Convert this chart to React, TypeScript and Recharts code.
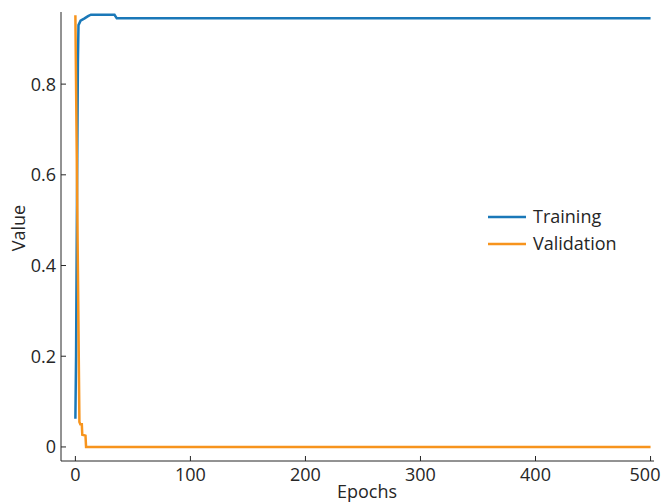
import { LineChart, Line, XAxis, YAxis } from 'recharts'

// epochs / values (change points only, lines are straight between them)
const trainingEpochs = [0, 0.6, 1.4, 2.2, 2.7, 4.5, 8, 11, 13.5, 34, 36, 500]
const trainingValues = [0.062, 0.2, 0.55, 0.85, 0.93, 0.94, 0.945, 0.95, 0.953, 0.953, 0.945, 0.945]

const validationEpochs = [0, 3.5, 4.3, 5.6, 6, 8.8, 9.3, 500]
const validationValues = [0.952, 0.055, 0.05, 0.05, 0.027, 0.025, 0, 0]

const xTicks = [0, 100, 200, 300, 400, 500]
const yTicks = [0, 0.2, 0.4, 0.6, 0.8]

const training = trainingEpochs.map((e, i) => ({ epoch: e, value: trainingValues[i] }))
const validation = validationEpochs.map((e, i) => ({ epoch: e, value: validationValues[i] }))

const BLUE = '#1a78b8'
const ORANGE = '#f7941d'
const INK = '#262626'
const FONT = '"Open Sans", sans-serif'

function LegendBox() {
  const rows = [
    { name: 'Training', color: BLUE },
    { name: 'Validation', color: ORANGE },
  ]
  return (
    <svg width={160} height={60} style={{ position: 'absolute', left: 486, top: 205 }}>
      {rows.map((r, i) => (
        <g key={r.name}>
          <line x1={2} x2={40} y1={12 + i * 27} y2={12 + i * 27} stroke={r.color} strokeWidth={2.5} />
          <text x={47} y={12 + i * 27} dy="0.35em" fontSize={18} fill={INK} fontFamily={FONT}>
            {r.name}
          </text>
        </g>
      ))}
    </svg>
  )
}

// x tick label; the last one sits a little left like in the source figure
function XTick(props: any) {
  const { x, y, payload } = props
  const shift = payload.value === 500 ? -5 : 0
  return (
    <text x={x + shift} y={y} dy="0.71em" textAnchor="middle" fontSize={18} fill={INK} fontFamily={FONT}>
      {payload.value}
    </text>
  )
}

export default function App() {
  return (
    <div style={{ position: 'absolute', left: 0, top: 0, width: 662, height: 503, background: '#fff' }}>
      <LineChart width={662} height={503} margin={{ top: 12, right: 8, left: 0, bottom: 0 }}>
        <XAxis
          dataKey="epoch"
          type="number"
          domain={[-12.5, 503]}
          ticks={xTicks}
          height={42}
          tickSize={-5}
          tickMargin={12}
          stroke={INK}
          tick={<XTick />}
          label={{
            content: () => (
              <text x={367} y={498} textAnchor="middle" fontSize={18} fill={INK} fontFamily={FONT}>
                Epochs
              </text>
            ),
          }}
        />
        <YAxis
          dataKey="value"
          type="number"
          domain={[-0.031, 0.959]}
          ticks={yTicks}
          width={61}
          tickSize={-5}
          tickMargin={10}
          stroke={INK}
          tick={{ fill: INK, fontSize: 18, fontFamily: FONT }}
          label={{
            content: () => (
              <text
                x={25}
                y={228}
                transform="rotate(-90 25 228)"
                textAnchor="middle"
                fontSize={18}
                fill={INK}
                fontFamily={FONT}
              >
                Value
              </text>
            ),
          }}
        />
        <Line
          data={training}
          dataKey="value"
          name="Training"
          type="linear"
          stroke={BLUE}
          strokeWidth={2.5}
          dot={false}
          isAnimationActive={false}
        />
        <Line
          data={validation}
          dataKey="value"
          name="Validation"
          type="linear"
          stroke={ORANGE}
          strokeWidth={2.5}
          dot={false}
          isAnimationActive={false}
        />
      </LineChart>
      <LegendBox />
    </div>
  )
}
